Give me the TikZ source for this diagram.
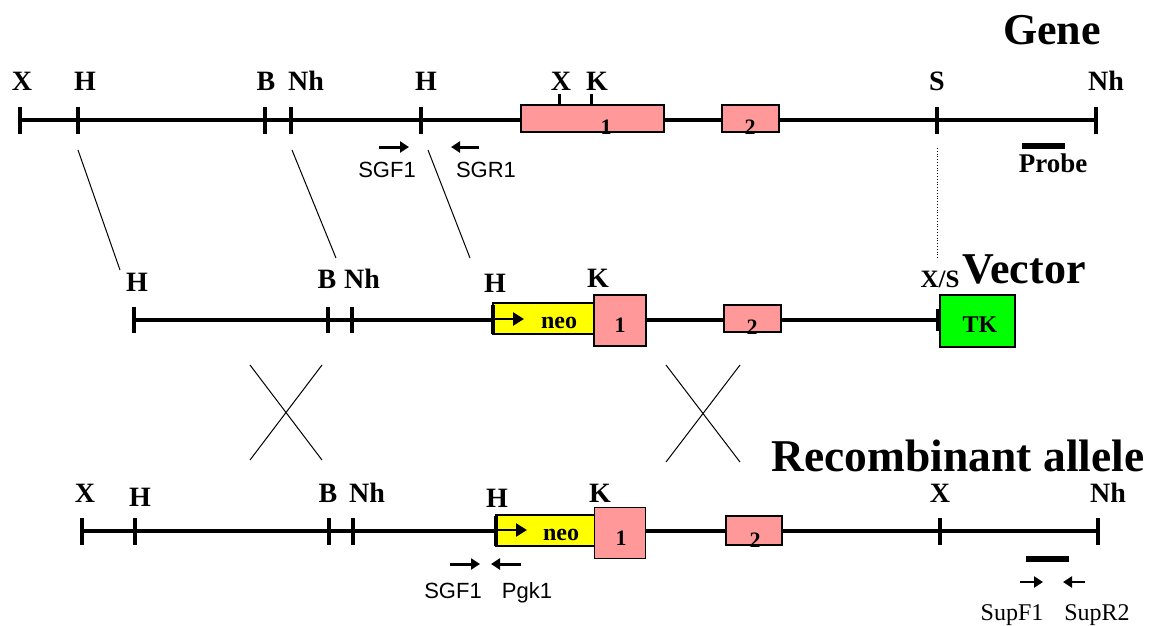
\documentclass[tikz,border=0pt]{standalone}
\usepackage{fontspec}
\setmainfont{Liberation Serif}
\newfontfamily\primerfont{Liberation Sans}
\usetikzlibrary{arrows.meta}
\definecolor{exonpink}{HTML}{FF9999}
\definecolor{neoyellow}{HTML}{FFFF00}
\definecolor{tkgreen}{HTML}{00FF00}
\begin{document}
\begin{tikzpicture}[x=1pt,y=-1pt,
  chrom/.style={line width=4.5pt},
  site/.style={line width=4pt},
  smallsite/.style={line width=3pt},
  lbl/.style={font=\fontsize{28}{28}\selectfont\bfseries, anchor=base, inner sep=0pt},
  title/.style={font=\fontsize{44}{44}\selectfont\bfseries, anchor=base, inner sep=0pt},
  boxnum/.style={font=\fontsize{22}{22}\selectfont\bfseries, anchor=base, inner sep=0pt},
  boxtxt/.style={font=\fontsize{24}{24}\selectfont\bfseries, anchor=base, inner sep=0pt},
  exon/.style={draw, line width=1.5pt, fill=exonpink, inner sep=0pt},
  neobox/.style={draw, line width=1.5pt, fill=neoyellow, inner sep=0pt},
  tkbox/.style={draw, line width=1.5pt, fill=tkgreen, inner sep=0pt},
  primer/.style={line width=3pt, -{Triangle[length=9pt,width=11pt]}},
  primertxt/.style={font=\primerfont\fontsize{22}{22}\selectfont, anchor=base, inner sep=0pt},
  suptxt/.style={font=\fontsize{24}{24}\selectfont, anchor=base, inner sep=0pt},
  thin/.style={line width=1pt},
  bar/.style={line width=6.5pt}
]
\useasboundingbox (0,0) rectangle (1154,625);

% ---------------- Gene ----------------
\coordinate (g0) at (20,120);
\coordinate (g1) at (1096,120);
\draw[chrom] (g0) -- (g1);
\node[exon, minimum width=143pt, minimum height=27pt] (ge1) at (592.5,118.5) {};
\node[exon, minimum width=57pt, minimum height=27pt] (ge2) at (750.5,118.5) {};
\node[boxnum] (ge1n) at (606,134) {1};
\node[boxnum] (ge2n) at (750,134) {2};
\draw[smallsite] (559,94) -- (ge1.north -| 559,0);
\draw[smallsite] (591,94) -- (ge1.north -| 591,0);
\foreach \x in {20,78,265,291,421,937,1096}
  \draw[site] (\x,107) -- (\x,134);
\node[lbl] (gX1) at (22,90) {X};
\node[lbl] (gH1) at (85,90) {H};
\node[lbl] (gB) at (266,90) {B};
\node[lbl] (gNh1) at (306,90) {Nh};
\node[lbl] (gH2) at (426,90) {H};
\node[lbl] (gX2) at (561,90) {X};
\node[lbl] (gK) at (597,90) {K};
\node[lbl] (gS) at (937,90) {S};
\node[lbl] (gNh2) at (1106,90) {Nh};
\node[title] (gene) at (1052,44) {Gene};
% probe
\coordinate (pb0) at (1022,146);
\coordinate (pb1) at (1065,146);
\draw[bar] (pb0) -- (pb1);
\node[lbl, font=\fontsize{27}{27}\selectfont\bfseries] (probe) at (1053,172) {Probe};
% primers
\coordinate (sgf0) at (379,147); \coordinate (sgf1) at (409,147);
\draw[primer] (sgf0) -- (sgf1);
\node[primertxt] (sgft) at (387,177) {SGF1};
\coordinate (sgr0) at (479,147); \coordinate (sgr1) at (451,147);
\draw[primer] (sgr0) -- (sgr1);
\node[primertxt] (sgrt) at (486,177) {SGR1};

% connectors gene -> vector
\coordinate (c1a) at (78,150);  \coordinate (c1b) at (120,270);
\coordinate (c2a) at (292,150); \coordinate (c2b) at (336,258);
\coordinate (c3a) at (428,150); \coordinate (c3b) at (470,258);
\coordinate (c4a) at (937,148); \coordinate (c4b) at (937,260);
\draw[thin] (c1a) -- (c1b);
\draw[thin] (c2a) -- (c2b);
\draw[thin] (c3a) -- (c3b);
\draw[line width=0.8pt, dotted] (c4a) -- (c4b);

% ---------------- Vector ----------------
\coordinate (v0) at (134,320);
\coordinate (v1) at (938,320);
\draw[chrom] (v0) -- (v1);
\node[neobox, minimum width=101pt, minimum height=31pt] (vneo) at (543.5,318.5) {};
\node[exon, minimum width=52pt, minimum height=51pt] (ve1) at (620,320.5) {};
\node[exon, minimum width=57pt, minimum height=27pt] (ve2) at (752.5,318.5) {};
\node[tkbox, minimum width=75pt, minimum height=52pt] (vtk) at (977.5,321) {};
\coordinate (vna0) at (495,319); \coordinate (vna1) at (524,319);
\draw[line width=2.5pt, -{Triangle[length=11pt,width=13pt]}] (vna0) -- (vna1);
\node[boxtxt] (vneot) at (559,328) {neo};
\node[boxnum] (ve1n) at (620,332) {1};
\node[boxnum] (ve2n) at (752,334) {2};
\node[boxtxt] (vtkt) at (980,332) {TK};
\foreach \x in {134,328,352}
  \draw[site] (\x,307) -- (\x,333);
\draw[site] (493,305) -- (493,334);
\draw[site] (938,309) -- (938,331);
\node[lbl] (vH1) at (137,291) {H};
\node[lbl] (vB) at (327,288) {B};
\node[lbl] (vNh) at (362,288) {Nh};
\node[lbl] (vH2) at (495,292) {H};
\node[lbl] (vK) at (598,287) {K};
\node[lbl, font=\fontsize{25}{25}\selectfont\bfseries] (vXS) at (940,287) {X/S};
\node[title] (vector) at (1024,283) {Vector};

% crossovers
\coordinate (xa1) at (250,365); \coordinate (xa2) at (322,460);
\coordinate (xa3) at (322,365); \coordinate (xa4) at (250,460);
\draw[thin] (xa1) -- (xa2);
\draw[thin] (xa3) -- (xa4);
\coordinate (xb1) at (666,365); \coordinate (xb2) at (740,462);
\coordinate (xb3) at (740,365); \coordinate (xb4) at (666,462);
\draw[thin] (xb1) -- (xb2);
\draw[thin] (xb3) -- (xb4);

% ---------------- Recombinant allele ----------------
\coordinate (r0) at (82,531);
\coordinate (r1) at (1098,531);
\draw[chrom] (r0) -- (r1);
\node[neobox, minimum width=100pt, minimum height=31pt] (rneo) at (546,530.5) {};
\node[exon, minimum width=51pt, minimum height=51pt] (re1) at (620,533) {};
\node[exon, minimum width=56pt, minimum height=29pt] (re2) at (754,530.5) {};
\coordinate (rna0) at (498,530); \coordinate (rna1) at (527,530);
\draw[line width=2.5pt, -{Triangle[length=11pt,width=13pt]}] (rna0) -- (rna1);
\node[boxtxt] (rneot) at (561,540) {neo};
\node[boxnum] (re1n) at (621,545) {1};
\node[boxnum] (re2n) at (755,547) {2};
\foreach \x in {82,135,329,353,940,1098}
  \draw[site] (\x,518) -- (\x,545);
\draw[site] (496,516) -- (496,546);
\node[lbl] (rX1) at (85,502) {X};
\node[lbl] (rH1) at (140,506) {H};
\node[lbl] (rB) at (328,502) {B};
\node[lbl] (rNh1) at (367,502) {Nh};
\node[lbl] (rH2) at (497,507) {H};
\node[lbl] (rK) at (600,502) {K};
\node[lbl] (rX2) at (940,502) {X};
\node[lbl] (rNh2) at (1108,502) {Nh};
\node[title, font=\fontsize{45.5}{45.5}\selectfont\bfseries] (recomb) at (958,471) {Recombinant allele};
% bar and primers
\coordinate (rb0) at (1026,559); \coordinate (rb1) at (1069,559);
\draw[bar] (rb0) -- (rb1);
\coordinate (supf0) at (1020,582); \coordinate (supf1) at (1043,582);
\draw[line width=2.5pt, -{Triangle[length=9pt,width=11pt]}] (supf0) -- (supf1);
\coordinate (supr0) at (1085,582); \coordinate (supr1) at (1063,582);
\draw[line width=2.5pt, -{Triangle[length=9pt,width=11pt]}] (supr0) -- (supr1);
\node[suptxt] (supft) at (1012,620) {SupF1};
\node[suptxt] (suprt) at (1097,620) {SupR2};
\coordinate (rsgf0) at (450,564); \coordinate (rsgf1) at (480,564);
\draw[primer] (rsgf0) -- (rsgf1);
\node[primertxt] (rsgft) at (453,598) {SGF1};
\coordinate (pgk0) at (521,564); \coordinate (pgk1) at (491,564);
\draw[primer] (pgk0) -- (pgk1);
\node[primertxt] (pgkt) at (527,598) {Pgk1};
\end{tikzpicture}
\end{document}
